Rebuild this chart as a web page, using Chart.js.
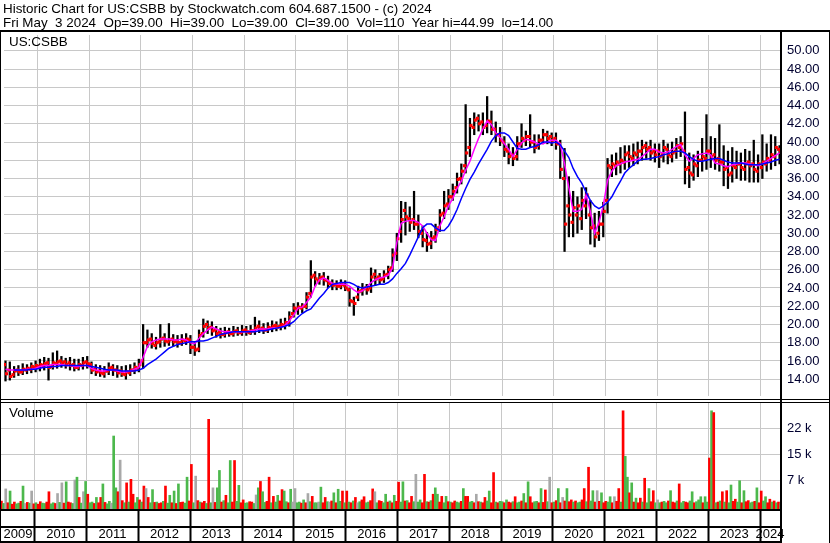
<!DOCTYPE html>
<html>
<head>
<meta charset="utf-8">
<script src="https://cdn.jsdelivr.net/npm/chart.js@4.4.1/dist/chart.umd.min.js"></script>
<style>
  body { margin: 0; background: #fff; }
  #wrap { position: relative; width: 830px; height: 543px; overflow: hidden; font-family: "Liberation Sans", Arial, sans-serif; color: #000; }
  #wrap canvas { position: absolute; left: 0; }
  #price { top: 31px; }
  #volume { top: 400px; }
  .txt { position: absolute; white-space: pre; font-size: 13.4px; line-height: 14px; z-index: 3; }
  .ln { position: absolute; background: #000; z-index: 2; }
</style>
</head>
<body>
<div id="wrap">
  <div class="txt" style="left:3px;top:2px">Historic Chart for US:CSBB by Stockwatch.com 604.687.1500 - (c) 2024
Fri May  3 2024  Op=39.00  Hi=39.00  Lo=39.00  Cl=39.00  Vol=110  Year hi=44.99  lo=14.00</div>
  <div class="txt" style="left:9px;top:35px">US:CSBB</div>
  <div class="txt" style="left:9px;top:406px">Volume</div>
  <canvas id="price" width="830" height="369"></canvas>
  <canvas id="volume" width="830" height="143"></canvas>
  <div class="ln" style="left:0;top:30px;width:830px;height:2px"></div>
  <div class="ln" style="left:0;top:30px;width:1px;height:513px"></div>
  <div class="ln" style="left:780px;top:30px;width:2px;height:513px"></div>
  <div class="ln" style="left:829px;top:30px;width:1px;height:513px"></div>
  <div class="ln" style="left:0;top:399px;width:830px;height:1px"></div>
  <div class="ln" style="left:0;top:402px;width:830px;height:1px"></div>
  <div class="ln" style="left:0;top:509px;width:782px;height:2px"></div>
  <div class="ln" style="left:0;top:526px;width:782px;height:2px"></div>
  <div class="ln" style="left:0;top:541px;width:782px;height:2px"></div>
</div>
<script>
// monthly values, index 0 = May 2009 ... index 180 = May 2024
const priceHigh = [
  16.0,15.9,15.4,15.5,15.7,15.6,15.8,16.0,
  16.2,16.4,16.3,16.9,17.1,16.5,16.3,16.4,16.2,16.2,16.4,16.5,
  15.9,15.6,15.5,15.4,15.8,15.6,15.5,15.4,15.5,15.6,15.8,16.2,
  20.0,19.4,19.0,18.6,20.0,19.0,20.1,18.9,18.8,18.9,19.0,18.8,
  18.0,19.4,20.6,20.4,20.3,19.8,19.6,19.7,19.6,19.8,19.7,19.9,
  19.8,19.9,20.8,20.4,20.1,20.2,20.4,20.3,20.6,20.7,21.4,22.3,
  22.4,22.3,23.5,27.0,25.8,25.6,25.7,25.3,24.9,24.8,24.9,24.8,
  24.0,23.0,24.2,24.5,24.4,26.2,26.0,25.6,25.9,26.4,28.3,30.0,
  33.5,33.4,32.9,34.6,32.0,30.8,30.1,30.2,31.0,32.6,34.6,34.8,
  35.4,36.6,37.6,44.1,42.6,43.2,43.0,43.2,44.99,43.4,42.2,41.6,
  40.6,39.8,39.4,40.6,42.0,41.2,43.0,40.8,40.8,41.4,41.2,41.0,
  41.0,40.2,39.3,36.2,34.6,34.0,35.0,35.0,33.6,32.2,32.4,33.4,
  38.2,38.6,38.8,39.4,39.6,39.6,39.8,40.0,40.2,40.0,40.2,39.8,
  39.8,40.2,39.8,40.0,40.4,40.6,43.3,38.8,38.6,39.0,40.4,43.0,
  40.6,40.4,41.9,39.6,39.0,39.4,39.0,38.8,39.2,39.0,40.2,38.6,
  40.8,39.8,40.8,40.6,39.6
];
const priceLow = [
  13.8,13.9,14.2,14.4,14.5,14.6,14.7,14.8,
  14.9,15.0,13.9,15.1,15.2,15.3,15.2,15.0,14.9,15.0,15.1,15.2,
  14.6,14.4,14.3,14.2,14.5,14.4,14.2,14.3,14.0,14.4,14.6,14.8,
  15.2,17.5,17.4,17.3,17.5,17.6,17.7,17.6,17.5,17.7,17.8,16.8,
  16.6,17.0,18.6,19.0,18.8,18.6,18.5,18.6,18.7,18.7,18.8,18.8,
  18.8,18.9,18.9,19.1,19.0,19.1,19.2,19.3,19.4,19.5,19.8,20.8,
  21.1,21.3,21.7,23.0,24.2,24.4,24.3,24.0,23.8,23.8,23.9,23.7,
  22.0,21.0,22.6,23.2,23.3,23.5,24.3,24.4,24.6,25.0,25.8,27.0,
  29.0,29.8,30.2,30.4,29.5,28.5,28.0,28.3,29.0,30.2,31.6,32.6,
  33.6,34.4,35.4,36.6,38.4,40.8,41.2,40.8,41.0,40.8,40.0,39.6,
  38.4,37.6,37.4,38.0,39.4,39.6,39.4,38.8,39.2,39.8,39.8,39.6,
  39.2,36.0,28.0,29.6,29.6,30.0,30.4,31.6,28.8,28.5,29.2,29.6,
  32.2,36.2,36.4,36.6,37.0,37.2,37.4,37.6,38.0,38.2,38.0,37.8,
  37.2,37.8,37.6,37.8,38.2,38.4,35.4,35.0,35.8,36.2,36.8,37.0,
  37.2,37.0,36.8,35.2,34.9,35.6,36.0,35.8,35.8,35.6,35.6,35.6,
  36.0,36.8,37.0,37.4,37.6
];
const priceOpen = [
  15.6,15.0,14.5,15.0,14.8,15.0,15.1,15.3,
  15.4,15.5,15.8,15.4,15.7,16.0,15.9,15.8,15.6,15.3,15.5,15.9,
  15.6,15.1,14.9,14.6,14.9,15.3,15.0,14.9,14.5,14.7,15.0,15.2,
  16.0,18.0,18.4,17.7,18.1,18.5,18.1,18.4,18.2,18.0,18.2,18.3,
  17.5,17.3,19.0,20.0,19.7,19.4,19.2,18.9,19.2,19.0,19.3,19.1,
  19.4,19.1,19.3,19.8,19.6,19.4,19.6,19.9,19.8,19.9,20.2,21.2,
  21.7,21.8,22.0,23.4,25.4,24.8,25.2,24.8,24.5,24.4,24.2,24.3,
  23.8,22.5,23.0,23.7,24.0,24.0,25.5,25.2,25.0,25.5,26.2,27.8,
  30.2,32.5,31.6,31.5,31.0,30.0,29.2,28.9,29.6,30.6,32.2,33.2,
  34.0,35.0,36.0,37.4,39.4,41.6,42.6,42.2,41.8,42.2,41.4,40.8,
  40.0,39.0,38.6,38.4,39.8,40.2,40.6,40.0,39.6,40.2,40.8,40.6,
  40.4,39.8,36.0,33.0,31.2,32.0,31.6,33.0,32.0,30.8,30.0,31.0,
  33.6,37.2,37.4,37.6,37.8,38.8,38.2,38.6,39.0,39.6,39.4,39.0,
  39.0,38.6,39.2,38.4,39.0,39.4,39.0,37.2,36.4,37.4,38.0,38.2,
  39.0,38.6,38.2,37.8,37.2,36.6,37.2,37.6,37.0,37.8,37.6,36.8,
  37.2,37.6,38.0,38.4,39.2
];
const priceClose = [
  14.6,14.3,14.9,14.8,15.1,15.2,15.4,15.5,
  15.6,15.7,15.3,15.8,15.9,15.8,15.6,15.5,15.3,15.6,15.8,15.7,
  15.0,14.8,14.7,14.9,15.2,15.0,14.7,14.6,14.8,15.0,15.3,15.6,
  18.0,18.3,17.9,18.0,18.4,18.2,18.3,18.1,18.0,18.3,18.4,17.5,
  17.2,18.8,19.8,19.6,19.3,19.0,18.9,19.1,19.0,19.2,19.1,19.3,
  19.2,19.3,19.6,19.5,19.4,19.7,19.8,19.7,20.0,20.2,20.8,21.8,
  21.9,22.0,23.0,25.2,25.0,25.1,24.9,24.5,24.3,24.2,24.4,24.0,
  22.6,22.3,23.6,23.9,23.8,25.2,25.0,24.9,25.4,26.0,27.6,29.4,
  31.5,31.8,31.2,31.0,30.2,29.3,28.8,29.4,30.4,32.0,33.0,34.0,
  34.6,35.9,36.8,38.8,41.8,42.4,42.0,41.6,42.3,41.4,40.8,40.2,
  39.2,38.4,38.2,39.8,40.4,40.6,40.0,39.4,40.2,40.8,40.4,40.2,
  39.8,37.0,31.0,32.0,32.8,33.0,33.6,34.2,30.6,29.6,31.0,32.4,
  37.4,37.6,37.8,38.0,38.6,38.4,38.8,39.0,39.4,39.2,38.8,38.6,
  38.4,39.4,38.6,38.8,39.6,39.8,37.0,36.6,37.6,38.0,38.4,39.0,
  38.4,38.0,37.8,37.0,36.4,37.4,37.6,37.2,37.6,37.4,37.0,37.6,
  37.8,38.2,38.6,39.4,39.0
];
// short (magenta) and long (blue) moving averages as drawn
const maShort = [
  15.1,15.0,15.0,15.0,15.0,15.1,15.1,15.2,
  15.4,15.5,15.5,15.6,15.6,15.6,15.5,15.5,15.4,15.4,15.5,15.5,
  15.2,15.0,14.9,14.9,15.0,15.0,14.9,14.8,14.8,14.9,15.1,15.3,
  16.4,17.6,18.1,18.3,18.4,18.4,18.4,18.3,18.3,18.4,18.3,18.0,
  17.9,18.5,19.0,19.4,19.7,19.5,19.3,19.2,19.2,19.2,19.2,19.2,
  19.2,19.3,19.4,19.5,19.5,19.5,19.6,19.6,19.7,19.9,20.4,21.0,
  21.8,21.9,22.4,23.0,24.2,24.9,25.1,24.8,24.5,24.4,24.4,24.4,
  24.2,23.8,23.5,23.7,24.1,24.6,24.9,25.1,25.2,25.4,26.2,29.0,
  31.1,31.3,31.4,31.4,31.2,30.8,30.0,29.3,29.2,30.8,31.8,33.0,
  33.8,34.9,35.7,36.9,37.9,39.2,40.4,41.4,42.3,41.9,41.0,40.5,
  39.8,39.2,38.4,39.2,39.9,40.3,40.2,40.0,39.8,39.8,40.0,40.2,
  40.2,39.8,37.6,35.0,32.4,32.4,32.6,34.2,32.4,30.0,31.2,33.0,
  35.8,36.8,37.4,37.6,37.8,37.9,38.0,38.1,38.4,38.8,39.2,39.2,
  38.9,38.8,38.9,39.2,39.5,39.7,38.6,37.9,38.2,38.6,38.7,38.8,
  38.6,37.7,37.6,37.4,37.3,37.5,37.6,37.7,37.7,37.6,37.5,37.4,
  37.6,37.9,38.2,38.5,38.8
];
const maLong = [
  null,null,15.0,15.0,15.0,15.0,15.1,15.1,
  15.2,15.3,15.3,15.4,15.4,15.5,15.5,15.5,15.5,15.5,15.5,15.5,
  15.4,15.3,15.2,15.1,15.0,15.0,15.0,14.9,14.9,14.9,14.9,15.0,
  15.2,15.6,15.9,16.2,16.6,17.0,17.4,17.6,17.8,17.9,18.0,18.1,
  18.1,18.2,18.2,18.3,18.5,18.7,18.9,19.0,19.1,19.2,19.2,19.2,
  19.2,19.2,19.2,19.3,19.3,19.4,19.5,19.6,19.7,19.8,20.0,20.3,
  20.8,21.2,21.5,21.7,22.3,22.9,23.4,24.0,24.4,24.5,24.6,24.6,
  24.6,24.4,24.1,24.0,24.1,24.2,24.3,24.4,24.4,24.6,25.0,25.6,
  26.1,26.7,27.6,28.6,29.6,30.6,31.0,31.0,30.6,30.3,30.3,30.8,
  31.6,32.6,33.8,34.9,35.9,36.7,37.6,38.4,39.2,40.1,40.7,41.0,
  41.0,40.7,40.0,39.3,39.2,39.2,39.4,39.5,39.7,40.0,40.0,39.9,
  40.0,39.7,39.0,38.3,37.1,36.2,35.5,34.5,33.6,33.0,32.7,33.0,
  33.4,34.0,34.9,35.7,36.6,37.1,37.5,37.9,38.1,38.1,38.2,38.3,
  38.4,38.6,38.7,38.9,39.0,39.0,38.8,38.4,38.1,37.9,37.9,38.0,
  38.1,38.2,38.2,38.0,37.8,37.7,37.7,37.7,37.6,37.5,37.5,37.5,
  37.6,37.7,37.8,38.0,38.1
];
// volume in thousands, two bars per month (first / second half), r=down g=up n=unchanged
const volA = [
  1.5,4.9,4.3,1.2,0.9,5.7,1.1,4.3,
  1.0,1.3,0.8,4.1,1.0,3.6,6.6,6.9,1.0,7.4,2.5,4.1,
  3.4,1.2,2.5,2.5,1.1,1.4,19.8,4.1,1.6,6.6,7.6,1.0,
  1.8,5.7,2.5,4.7,1.2,1.0,5.7,3.1,4.3,6.3,1.2,8.2,
  11.8,8.5,1.2,1.4,24.5,5.2,5.2,1.2,3.1,12.9,12.9,5.9,
  1.8,1.0,1.2,3.2,7.0,1.1,8.2,2.8,3.1,4.7,1.3,4.8,
  5.0,1.2,1.8,3.6,2.8,1.0,5.4,2.5,1.2,3.8,4.8,4.3,
  4.3,1.0,2.5,1.3,2.7,1.2,4.9,1.0,1.4,3.4,1.5,3.1,
  6.8,6.9,1.6,2.8,9.0,1.8,9.0,1.2,3.4,3.4,2.8,2.8,
  1.2,1.5,1.0,5.0,2.8,1.4,3.4,1.2,2.5,4.3,9.5,1.0,
  1.3,1.8,1.0,2.7,1.2,3.6,6.9,1.0,1.4,5.0,4.6,8.2,
  1.2,5.0,2.5,5.0,1.8,1.5,1.2,5.0,11.0,4.4,4.4,3.8,
  1.4,2.7,2.7,5.0,26.9,8.2,6.6,2.3,2.3,7.9,5.0,4.4,
  1.8,1.2,1.0,4.4,1.0,6.3,1.4,1.0,4.1,1.3,2.7,2.7,
  13.6,26.4,1.2,4.1,4.4,6.0,2.0,7.2,4.4,1.6,1.2,5.2,
  4.3,2.7,2.0,1.5,1.2
];
const volADir = ("rngrggrn grgrgnngrnrn rggrrggrrrrg rrrggrrgggrg rngrrngrrgrg rgrnrgrrgrgg nggnrggrnggr " +
  "rrrgrgrgrggg rggrngrrrgrg grggrgngrgrr ggrrgggrggrn ggngrrgrrgng rgnrrgggrrgr nrggrrgrgggg rrrrrgrggrgg rgrrr").replace(/ /g, "");
const volB = [
  0.8,1.0,0.6,0.7,1.4,0.8,0.9,0.7,
  0.6,0.9,1.2,0.7,0.8,1.1,0.9,1.2,0.8,8.2,0.9,7.0,
  1.0,0.8,1.0,6.3,0.7,0.9,5.2,13.0,1.0,1.2,3.4,2.5,
  1.2,5.0,1.0,1.1,0.8,1.4,0.9,1.0,0.8,1.1,0.9,1.5,
  1.0,1.6,1.0,0.8,1.0,1.1,10.1,1.6,1.0,1.2,1.4,1.0,
  0.9,1.3,0.8,5.2,4.1,1.4,1.0,1.2,1.5,4.3,1.0,1.2,
  1.0,0.9,1.0,1.3,1.0,1.2,1.0,1.3,1.5,1.0,1.4,1.0,
  1.2,1.5,1.0,1.8,1.0,1.6,4.1,1.6,1.0,1.2,1.0,1.4,
  1.2,1.5,1.0,1.3,1.2,1.0,1.3,1.6,5.2,1.2,1.0,1.3,
  1.0,1.2,1.4,2.8,1.2,1.0,1.3,1.0,1.5,1.0,1.2,1.4,
  1.0,1.2,1.3,1.0,1.5,1.0,2.7,1.3,1.0,1.1,1.3,1.0,
  1.6,1.0,1.5,1.3,1.2,1.0,1.8,1.3,1.5,1.2,1.4,1.0,
  1.2,1.0,1.4,1.2,14.1,3.8,1.2,1.0,1.2,1.0,1.3,1.0,
  1.0,1.4,1.5,1.2,1.5,1.0,1.2,1.5,1.0,1.8,1.0,1.2,
  26.9,1.0,1.5,1.2,1.0,1.4,1.2,1.0,1.3,1.0,1.4,1.0,
  1.5,1.0,1.2,1.0,0.6
];
const volBDir = ("grrgrngr rgrgrgrrgggg grrggngnggrg gngrrggrrrgr grrggrgggrgr grgggrggrgrn grrggnrgrrgg " +
  "ggnrgrnrgrrr grrggrgggrgr rgrrgrrrgrgg rrggrrrgrrgr rrrrggrggrrr grrggrrrggrg ggrrggrgrgrg gggggrgrrgrr grggg").replace(/ /g, "");

const years = ["2009","2010","2011","2012","2013","2014","2015","2016","2017","2018","2019","2020","2021","2022","2023","2024"];
// month index where each year from 2010 on begins
const yearStarts = [7.5,19.5,31.5,43.5,55.5,67.5,79.5,91.5,103.5,115.5,127.5,139.5,151.5,163.5,175.5];
const priceTicks = [14,16,18,20,22,24,26,28,30,32,34,36,38,40,42,44,46,48,50];
const volTicks = [7.33, 14.67, 22];
const volTickLabels = ["7 k", "15 k", "22 k"];

const xMin = -0.35, xMax = 180.1;
const gridGray = "#c8c8c8";
const font13 = { family: "'Liberation Sans', Arial, sans-serif", size: 13 };
const dirColor = { r: "#ff0000", g: "#4cb84c", n: "#a8a8a8" };

function points(arr, shift) {
  return arr.map((v, i) => ({ x: i + shift, y: v }));
}
function noPad(s) {
  s.paddingTop = 0; s.paddingBottom = 0; s.paddingLeft = 0; s.paddingRight = 0;
}

new Chart(document.getElementById("price"), {
  type: "bar",
  data: {
    datasets: [
      { type: "line", data: points(maLong, 0), borderColor: "#0000ff", borderWidth: 1.5, pointRadius: 0, order: 1 },
      { type: "line", data: points(maShort, 0), borderColor: "#ff00ff", borderWidth: 1.5, pointRadius: 0, order: 2 },
      {
        type: "line", showLine: false,
        data: points(priceOpen, -0.25).concat(points(priceClose, 0.25)),
        pointStyle: "rect", pointRadius: 2.2, pointBackgroundColor: "#ff0000", pointBorderWidth: 0, order: 3
      },
      {
        type: "bar",
        data: priceHigh.map((h, i) => ({ x: i, y: [priceLow[i], h] })),
        backgroundColor: "#000", barThickness: 1.6, order: 4
      }
    ]
  },
  options: {
    responsive: false, animation: false, devicePixelRatio: 1,
    layout: { padding: { top: 1, bottom: 2, left: 1, right: 0 } },
    plugins: { legend: { display: false }, tooltip: { enabled: false } },
    scales: {
      x: {
        type: "linear", min: xMin, max: xMax, offset: false,
        afterBuildTicks: (s) => { s.ticks = yearStarts.map((v) => ({ value: v })); },
        afterFit: (s) => { s.height = 0; noPad(s); },
        grid: { color: gridGray, drawTicks: false, offset: false },
        border: { display: false },
        ticks: { display: false }
      },
      y: {
        position: "right", min: 12.16, max: 51.73,
        afterBuildTicks: (s) => { s.ticks = priceTicks.map((v) => ({ value: v })); },
        afterFit: (s) => { s.width = 50; noPad(s); },
        grid: { color: gridGray, drawTicks: false },
        border: { display: false },
        ticks: { padding: 7, color: "#000030", font: font13, callback: (v) => v.toFixed(2) }
      }
    }
  }
});

// volume bars, interleaved first/second half of each month
const volPoints = [];
const volColors = [];
volA.forEach((v, i) => {
  volPoints.push({ x: i - 0.25, y: volA[i] });
  volColors.push(dirColor[volADir[i]]);
  volPoints.push({ x: i + 0.25, y: volB[i] });
  volColors.push(dirColor[volBDir[i]]);
});

const volMin = -0.76;
const labelPos = [(xMin + yearStarts[0]) / 2]
  .concat(yearStarts.slice(0, -1).map((v) => v + 6))
  .concat([(yearStarts[yearStarts.length - 1] + xMax) / 2]);
const isBound = (v) => yearStarts.includes(v);

new Chart(document.getElementById("volume"), {
  type: "bar",
  data: {
    datasets: [{ data: volPoints, backgroundColor: volColors, barThickness: 2, base: volMin }]
  },
  options: {
    responsive: false, animation: false, devicePixelRatio: 1,
    layout: { padding: { top: 3, bottom: 0, left: 1, right: 0 } },
    plugins: { legend: { display: false }, tooltip: { enabled: false } },
    scales: {
      x: {
        type: "linear", min: xMin, max: xMax, offset: false,
        afterBuildTicks: (s) => {
          s.ticks = yearStarts.concat(labelPos).sort((a, b) => a - b).map((v) => ({ value: v }));
        },
        afterFit: (s) => { s.height = 34; noPad(s); },
        grid: {
          offset: false, tickLength: 32, tickWidth: 2,
          color: (c) => (c.tick && isBound(c.tick.value) ? gridGray : "rgba(0,0,0,0)"),
          tickColor: (c) => (c.tick && isBound(c.tick.value) ? "#000" : "rgba(0,0,0,0)")
        },
        border: { display: false },
        ticks: {
          autoSkip: false, maxRotation: 0, padding: -14, color: "#000", font: font13,
          callback: (v) => { const k = labelPos.indexOf(v); return k >= 0 ? years[k] : ""; }
        }
      },
      y: {
        position: "right", min: volMin, max: 29.1,
        afterBuildTicks: (s) => { s.ticks = volTicks.map((v) => ({ value: v })); },
        afterFit: (s) => { s.width = 50; noPad(s); },
        grid: { color: gridGray, drawTicks: false },
        border: { display: false },
        ticks: { padding: 7, color: "#000030", font: font13, callback: (v) => volTickLabels[volTicks.indexOf(v)] }
      }
    }
  }
});
</script>
</body>
</html>
